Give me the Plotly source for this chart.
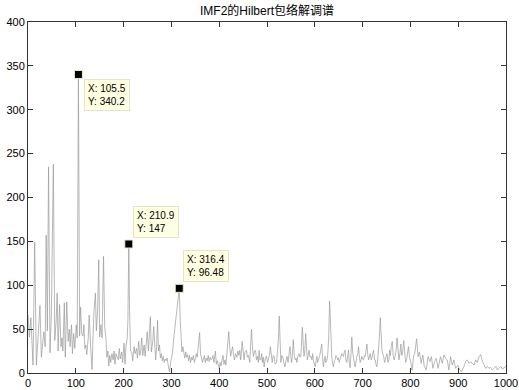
import plotly.graph_objects as go

# ---- data ----
freq_a = [0,3,6,8.5,10.5,14,17.5,21,25,28,31,33,36,38,40.5,43,46,49,53,56,59,61,63,66,69,71,73,76,78,81,84,86.5,88,91,93,95.5,98,101,103]
amp_a = [66,41,63,30,9,149,9,40,77,18,35,47,30,157,48,235,23,70,238,37,60,91,25,78,30,40,25,80,18,81,36,50,30,55,22,45,28,55,40]

freq_b = [108,110,112.5,115,117,119,121,123,126,128,131,134,136,138,141,143,145.5,148,150,152.5,155,158,160.5,163,165,167,169,171,173,175.5,178,180,182,184,186.5,189,191,193,196,198,201,203,205,207.5,209]
amp_b = [42,75,45,42,55,28,32,21,40,66,30,4,40,70,91,48,70,129,41,55,40,133,52,40,18,25,8,20,12,22,15,25,10,22,18,15,28,16,24,12,34,10,30,40,60]

freq_c = [212.5,214.5,217,219,222,224,227,229,231.5,234,236,238,240,243,245,247,249.5,252,254,256,258,261,263,265,267,269,271,273,275,277,279,281,283,285,287,289,291,293,296,299,302,305,308,311,313.5]
amp_c = [70,25,24,14,30,22,28,17,36,20,26,40,20,32,19,30,47,25,40,64,24,36,53,38,15,30,60,25,32,17,22,14,19,12,16,14,17,10,1,14,22,40,55,68,82]

freq_d = [318.5,320,322,324,326,328,330,332,334,336,338,340,342,344,346,348,350,352,354,356,359,361,363,365,367,369,371,373,375,377,379,381,383,385,387,389,392,394,396,398,400,402,404,406,408,410,412,414,416,418,420]
amp_d = [60,36,24,30,25,17,24,18,21,14,20,12,18,15,20,12,16,22,18,30,46,22,18,12,16,20,12,17,14,20,13,18,15,16,20,12,25,10,14,10,5,12,8,15,20,10,15,9,22,30,47]

freq_e1 = [422,424,426,428,430,432,434,437,439,441,443,445,448,450,452,454,457,459,461,464,465.5,467.5,469.5,471.5,474,476,478,480,482,483.5,485,487,489,490.5,492,494,496,499,501,503,505,507,509,511,513,515,517]
amp_e1 = [30,19,25,30,20,15,22,18,25,20,26,15,36,22,15,24,26,18,20,12,30,50,30,19,25,26,15,19,12,26,15,15,22,12,18,7,16,19,12,15,20,30,18,12,20,19,10]

freq_e2 = [520,522,524,525.6,527,529,531,533,535,537.5,540,542,544,546,548,550,551.5,553,555,557,559,561,562.5,565,567,569,570.5,572,574,576,577.5,579,581,583,584.5,586,588,590,592,594,595.5,597,599,601,603,604.5,606,608,610,612,614.5,616,618,620,621.5,623,625,627,629]
amp_e2 = [12,25,40,65,30,12,20,19,12,7,15,19,12,20,30,18,12,20,38,20,15,17,12,20,22,18,19,30,52,30,19,25,45,25,15,20,26,18,19,15,22,15,10,7,15,19,12,15,19,25,33,20,7,15,19,12,14,20,40]

freq_f1 = [631,633,635.5,637,639,641,642.5,644,646,648,649.5,651,653,655,656.5,658,660,662,663.5,665,667,669,670.5,672,674,676,677.5,679,681,683,684.5,686,688,690,691.5,693,695,697,698.5,700,702,704,705.5,707,709,711,712.5,714,716,718,719.5,721,723,725,726.5,728,730,731.5,733.5,735,737,739]
amp_f1 = [82,40,19,12,7,14,15,20,19,15,17,12,15,20,22,20,19,25,26,15,12,20,26,12,6,25,41,25,15,10,7,15,19,22,30,20,12,15,19,16,15,20,19,25,33,20,15,18,22,15,17,22,26,15,15,10,7,15,26,40,63,35]

freq_f2 = [740.5,742,744,746,748,749.5,751,753,755,756.5,758,760,762,764,766,768,770,772,774,776,778,780,782,784,786,788,790,792,794,796,798,800,802,803.6,805,807,809,811,813]
amp_f2 = [26,22,19,12,15,19,22,12,15,26,20,30,36,20,15,19,25,40,30,15,22,33,20,25,37,20,12,15,22,30,19,15,9,3,12,20,22,30,39]

freq_g = [816,819,822.5,826,829,833,837,841,844,847,850.5,854,858,863,866.6,870,873.6,877,880.6,884,887.6,891,894.6,899.5,903,907,912,915.6,919,922.6,926,929.6,933,936.6,940,943.6,947,950.6,954,957.6,961,964.6,968,971.6,975,978.6,982,985.6,989,992.6,996,1000]
amp_g = [18.6,24,11,20.5,7.6,3.4,18.6,13,18.6,5.3,13,16.7,5.3,18.6,11,20.5,16.7,15,3.4,18.6,9,15,5.3,9,3.4,1.8,7.6,13,15,11,13,11,9,15,12,18.6,21,13,9,5.3,7.6,5.3,6.4,3.4,5.3,7.6,3.4,5.3,7.6,4.5,6,7.6]

peak_freq = [105.5, 210.9, 316.4]
peak_amp = [340.2, 147, 96.48]
peak_labels = ["X: 105.5<br>Y: 340.2", "X: 210.9<br>Y: 147", "X: 316.4<br>Y: 96.48"]

x_ticks = [0, 100, 200, 300, 400, 500, 600, 700, 800, 900, 1000]
y_ticks = [0, 50, 100, 150, 200, 250, 300, 350, 400]
title_text = "IMF2的Hilbert包络解调谱"

# ---- assemble ----
pairs = []
for fs, am in [(freq_a, amp_a), (freq_b, amp_b), (freq_c, amp_c), (freq_d, amp_d),
               (freq_e1, amp_e1), (freq_e2, amp_e2), (freq_f1, amp_f1),
               (freq_f2, amp_f2), (freq_g, amp_g), (peak_freq, peak_amp)]:
    assert len(fs) == len(am)
    pairs.extend(zip(fs, am))
pairs.sort()
freq = [p[0] for p in pairs]
amp = [p[1] for p in pairs]

FONT = "Liberation Sans, Arial, Noto Sans CJK SC, sans-serif"

fig = go.Figure()
fig.add_trace(go.Scatter(x=freq, y=amp, mode="lines",
                         line=dict(color="#9a9a9a", width=0.7),
                         hoverinfo="skip", showlegend=False))
fig.add_trace(go.Scatter(x=peak_freq, y=peak_amp, mode="markers",
                         marker=dict(symbol="square", size=8, color="black",
                                     line=dict(color="#ececc0", width=1)),
                         hoverinfo="skip", showlegend=False))

anns = []
for i, (fx, fy, txt) in enumerate(zip(peak_freq, peak_amp, peak_labels)):
    if i == 0:
        pos = dict(xanchor="left", yanchor="top", xshift=6, yshift=-5)
    else:
        pos = dict(xanchor="left", yanchor="bottom", xshift=4, yshift=6)
    anns.append(dict(x=fx, y=fy, xref="x", yref="y", text=txt, showarrow=False,
                     align="left", bgcolor="#ffffe1", bordercolor="#e4e4c8",
                     borderwidth=1, borderpad=3,
                     font=dict(family=FONT, size=10, color="black"), **pos))

fig.update_layout(
    width=519, height=390,
    margin=dict(l=28, r=13, t=22, b=17, autoexpand=False),
    paper_bgcolor="white", plot_bgcolor="white",
    font=dict(family=FONT, size=11, color="black"),
    title=dict(text=title_text, x=0.5, xref="paper", y=1 - 11 / 390, yref="container",
               xanchor="center", yanchor="middle",
               font=dict(family=FONT, size=12, color="black")),
    annotations=anns,
    xaxis=dict(range=[0, 1000], tickvals=x_ticks, ticks="inside", ticklen=5,
               tickcolor="#333", showline=True, linecolor="#333", linewidth=1,
               mirror="ticks", showgrid=False, zeroline=False, automargin=False,
               tickfont=dict(family=FONT, size=11, color="black")),
    yaxis=dict(range=[0, 400], tickvals=y_ticks, ticks="inside", ticklen=5,
               tickcolor="#333", showline=True, linecolor="#333", linewidth=1,
               mirror="ticks", showgrid=False, zeroline=False, automargin=False,
               tickfont=dict(family=FONT, size=11, color="black")),
)

fig.write_html("out.html", config={"displayModeBar": False},
               post_script="document.body.style.margin='0';document.body.style.overflow='hidden';")
